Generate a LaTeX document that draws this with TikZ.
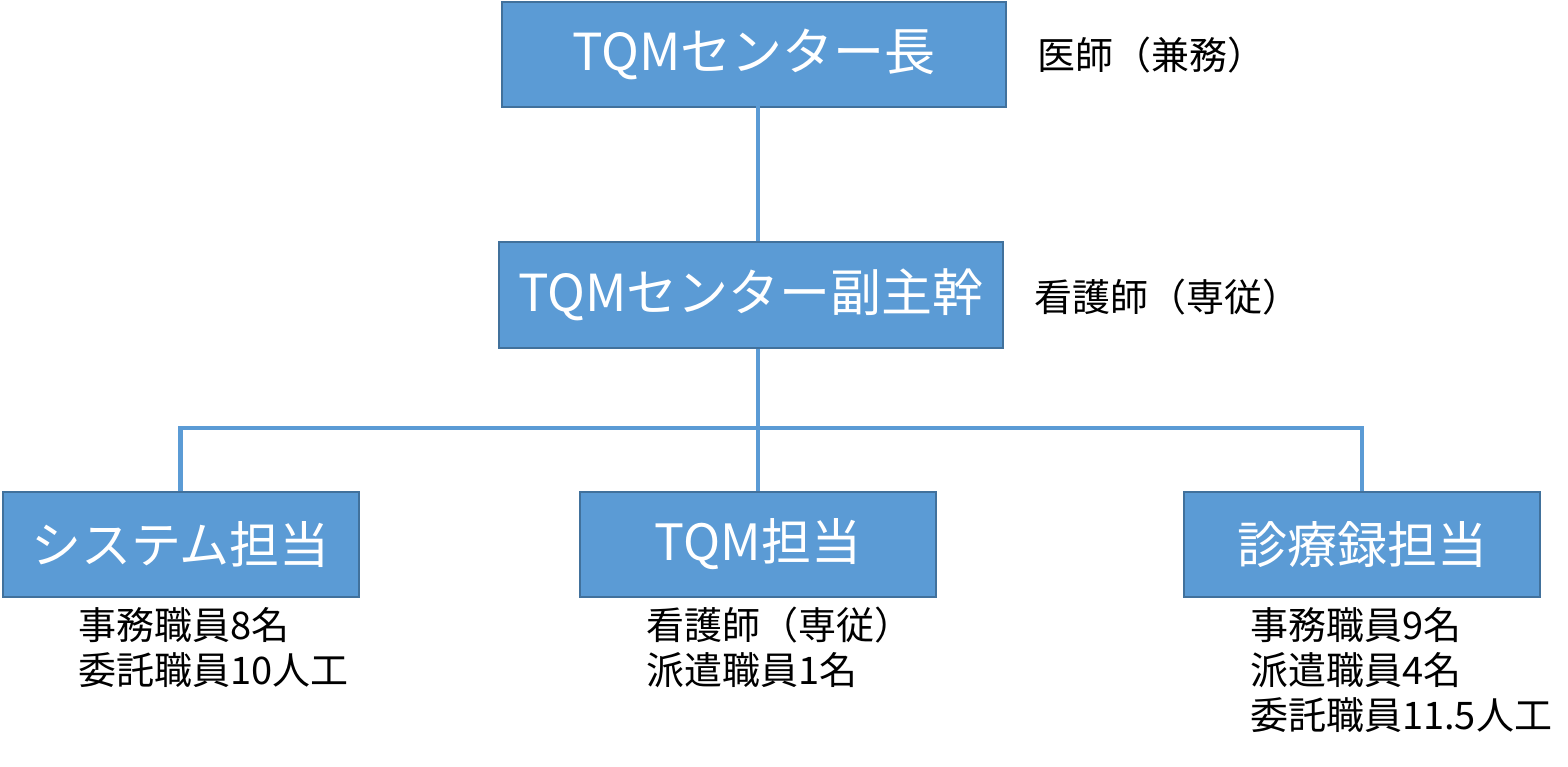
\documentclass[tikz,border=0pt]{standalone}
\usepackage{fontspec}
\newfontfamily\jp{Noto Sans CJK JP}
\definecolor{boxfill}{HTML}{5B9BD5}
\definecolor{boxline}{HTML}{41719C}
\begin{document}
\begin{tikzpicture}[x=1pt,y=-1pt,
  unit/.style={draw=boxline,line width=2pt,fill=boxfill,text=white,inner sep=0pt,
    font=\jp\fontsize{51}{55}\selectfont},
  sunit/.style={unit,font=\jp\fontsize{50}{55}\selectfont,minimum width=356pt,minimum height=105pt},
  side/.style={anchor=west,inner sep=0pt,align=left,text=black,
    font=\jp\fontsize{38}{45}\selectfont},
  link/.style={draw=boxfill,line width=4.5pt}]
\useasboundingbox (0,0) rectangle (1568,766);
\node[unit,minimum width=504pt,minimum height=105pt] (head) at (754,54.5) {TQMセンター長};
\node[unit,minimum width=504pt,minimum height=106pt] (sub) at (751,295) {TQMセンター副主幹};
\node[sunit] (sys) at (180.5,544.5) {システム担当};
\node[sunit] (tqm) at (758,544.5) {TQM担当};
\node[sunit] (rec) at (1362,544.5) {診療録担当};
\node[side,anchor=west] (headnote) at (1037,55) {医師（兼務）};
\node[side,anchor=west] (subnote) at (1034,297) {看護師（専従）};
\node[side,anchor=north west] (sysnote) at (78,607) {事務職員8名\\委託職員10人工};
\node[side,anchor=north west] (tqmnote) at (646,607) {看護師（専従）\\派遣職員1名};
\node[side,anchor=north west] (recnote) at (1250,607) {事務職員9名\\派遣職員4名\\委託職員11.5人工};
\draw[link] ([yshift=4pt]head.south -| tqm.north) -- (sub.north -| tqm.north);
\draw[link] (sub.south -| tqm.north) -- (tqm.north);
\draw[link] (sys.north) -- ++(0,-63) -| (rec.north);
\end{tikzpicture}
\end{document}
